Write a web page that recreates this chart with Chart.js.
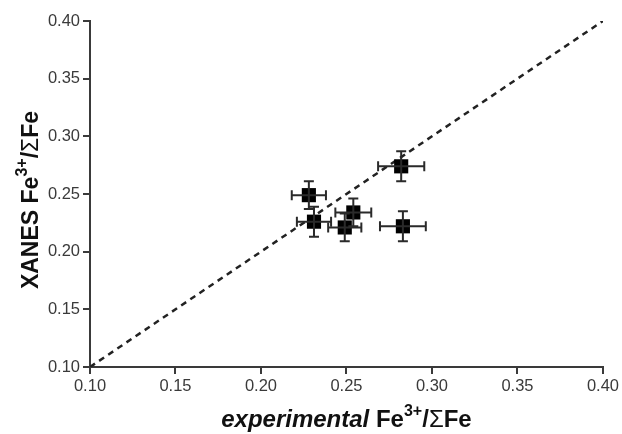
<!DOCTYPE html>
<html>
<head>
<meta charset="utf-8">
<script src="https://cdn.jsdelivr.net/npm/chart.js@4.4.1/dist/chart.umd.min.js"></script>
<style>
  html, body { margin: 0; padding: 0; background: #fff; }
  #wrap { width: 622px; height: 434px; position: relative; }
</style>
</head>
<body>
<div id="wrap"><canvas id="c"></canvas></div>
<script>
// Fe3+/ΣFe: experimental value vs XANES-derived value, with uncertainties
const experimental = [0.228, 0.231, 0.249, 0.254, 0.282, 0.283];
const xanes        = [0.249, 0.226, 0.221, 0.234, 0.274, 0.222];
const expErr       = [0.010, 0.010, 0.0097, 0.0105, 0.0135, 0.0134];
const xanesErr     = [0.012, 0.013, 0.012, 0.012, 0.013, 0.013];
// 1:1 reference line
const oneToOne = [0.10, 0.40];
const tickValues = [0.10, 0.15, 0.20, 0.25, 0.30, 0.35, 0.40];

const FONT = "'Liberation Sans', Arial, Helvetica, sans-serif";
const INK = '#3a3a3a';

const points = experimental.map((x, i) => ({ x, y: xanes[i], ex: expErr[i], ey: xanesErr[i] }));

// Draw horizontal and vertical error bars with end caps
const errorBars = {
  id: 'errorBars',
  afterDatasetsDraw(chart) {
    const { ctx, scales: { x, y } } = chart;
    const cap = 5;
    ctx.save();
    ctx.strokeStyle = '#2a2a2a';
    ctx.lineWidth = 2;
    points.forEach(p => {
      const cx = x.getPixelForValue(p.x), cy = y.getPixelForValue(p.y);
      const x0 = x.getPixelForValue(p.x - p.ex), x1 = x.getPixelForValue(p.x + p.ex);
      const y0 = y.getPixelForValue(p.y - p.ey), y1 = y.getPixelForValue(p.y + p.ey);
      ctx.beginPath();
      ctx.moveTo(x0, cy); ctx.lineTo(x1, cy);
      ctx.moveTo(x0, cy - cap); ctx.lineTo(x0, cy + cap);
      ctx.moveTo(x1, cy - cap); ctx.lineTo(x1, cy + cap);
      ctx.moveTo(cx, y0); ctx.lineTo(cx, y1);
      ctx.moveTo(cx - cap, y0); ctx.lineTo(cx + cap, y0);
      ctx.moveTo(cx - cap, y1); ctx.lineTo(cx + cap, y1);
      ctx.stroke();
    });
    ctx.restore();
  }
};

// Axis titles with superscripted charge
function richWidth(ctx, parts) {
  return parts.reduce((w, p) => { ctx.font = p.font; return w + ctx.measureText(p.text).width; }, 0);
}
function drawRich(ctx, parts, cx, baseline) {
  let x = cx - richWidth(ctx, parts) / 2;
  parts.forEach(p => {
    ctx.font = p.font;
    ctx.fillText(p.text, x, baseline - (p.rise || 0));
    x += ctx.measureText(p.text).width;
  });
}
const axisTitles = {
  id: 'axisTitles',
  afterDraw(chart) {
    const { ctx, chartArea } = chart;
    ctx.save();
    ctx.fillStyle = '#111';
    ctx.textBaseline = 'alphabetic';
    ctx.textAlign = 'left';
    const xParts = [
      { text: 'experimental ', font: 'italic bold 24px ' + FONT },
      { text: 'Fe', font: 'bold 24px ' + FONT },
      { text: '3+', font: 'bold 16px ' + FONT, rise: 11 },
      { text: '/', font: 'bold 24px ' + FONT },
      { text: 'Σ', font: '24px ' + FONT },
      { text: 'Fe', font: 'bold 24px ' + FONT }
    ];
    drawRich(ctx, xParts, (chartArea.left + chartArea.right) / 2, 427);
    const yParts = [
      { text: 'XANES Fe', font: 'bold 23px ' + FONT },
      { text: '3+', font: 'bold 16px ' + FONT, rise: 11 },
      { text: '/', font: 'bold 23px ' + FONT },
      { text: 'Σ', font: '23px ' + FONT },
      { text: 'Fe', font: 'bold 23px ' + FONT }
    ];
    ctx.translate(38, 200);
    ctx.rotate(-Math.PI / 2);
    drawRich(ctx, yParts, 0, 0);
    ctx.restore();
  }
};

function axis(extra) {
  return Object.assign({
    type: 'linear',
    min: oneToOne[0],
    max: oneToOne[1],
    afterBuildTicks: s => { s.ticks = tickValues.map(v => ({ value: v })); },
    ticks: {
      color: INK,
      font: { family: FONT, size: 16.5 },
      padding: 3,
      callback: v => Number(v).toFixed(2)
    },
    grid: { drawOnChartArea: false, drawTicks: true, tickLength: 7, color: INK, lineWidth: 2 },
    border: { display: true, color: INK, width: 2 },
    title: { display: false }
  }, extra);
}

new Chart(document.getElementById('c'), {
  type: 'scatter',
  data: {
    datasets: [
      {
        label: 'samples',
        data: points.map(p => ({ x: p.x, y: p.y })),
        pointStyle: 'rect',
        pointRadius: 10,
        pointHoverRadius: 10,
        backgroundColor: '#000',
        borderColor: '#000',
        borderWidth: 0,
        order: 1
      },
      {
        label: '1:1',
        type: 'line',
        data: oneToOne.map(v => ({ x: v, y: v })),
        borderColor: '#222',
        borderWidth: 2.5,
        borderDash: [6, 5],
        pointRadius: 0,
        fill: false,
        order: 2
      }
    ]
  },
  options: {
    responsive: true,
    maintainAspectRatio: false,
    animation: false,
    devicePixelRatio: 1,
    layout: { padding: { top: 21, right: 16, left: 0, bottom: 0 } },
    plugins: { legend: { display: false }, tooltip: { enabled: false } },
    scales: {
      x: axis({ position: 'bottom', afterFit: s => { s.height = 67; } }),
      y: axis({ position: 'left', afterFit: s => { s.width = 90; } })
    }
  },
  plugins: [errorBars, axisTitles]
});
</script>
</body>
</html>
